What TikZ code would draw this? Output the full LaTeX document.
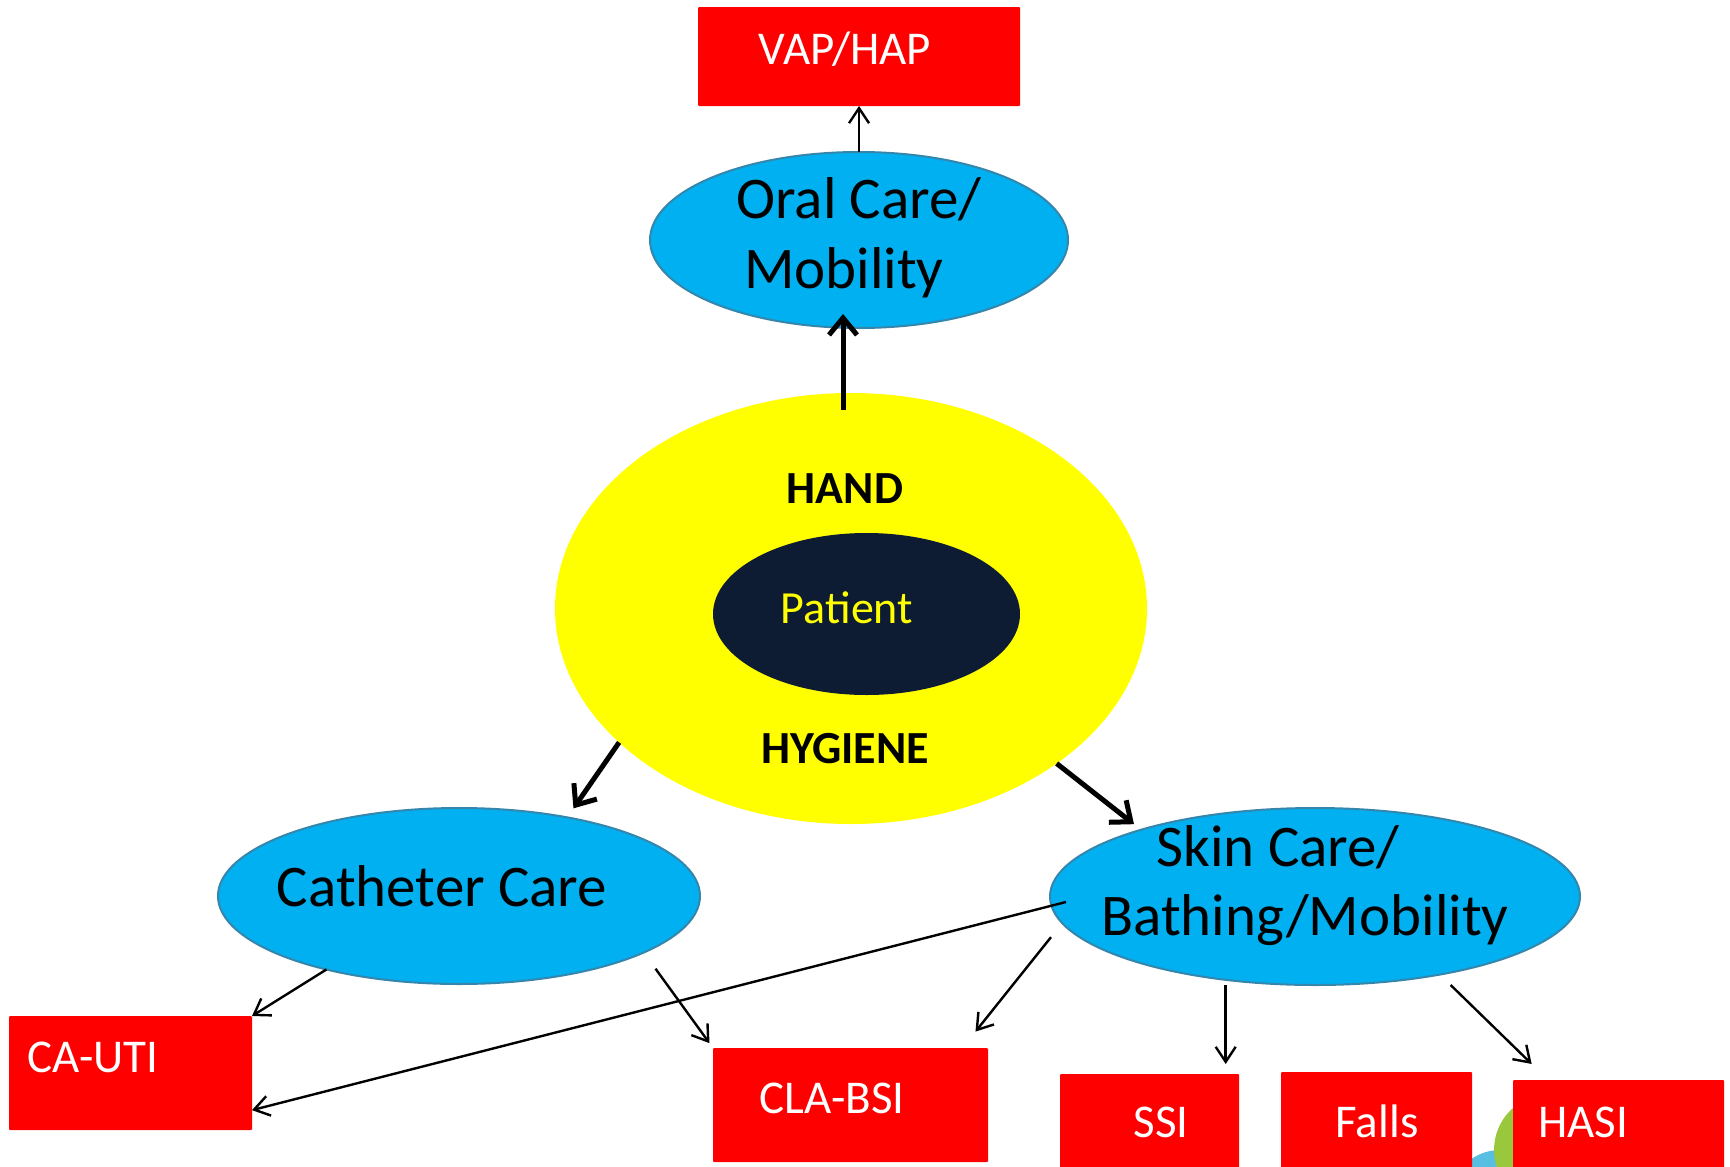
\documentclass[tikz,border=0pt]{standalone}
\usepackage{fontspec}
\setmainfont{Carlito}
\usetikzlibrary{arrows.meta,shapes.geometric}

\definecolor{careblue}{RGB}{0,176,240}
\definecolor{careline}{RGB}{52,134,172}
\definecolor{handyellow}{RGB}{255,255,0}
\definecolor{patientnavy}{RGB}{13,27,51}
\definecolor{riskred}{RGB}{255,0,0}
\definecolor{logoblue}{RGB}{88,190,226}
\definecolor{logogreen}{RGB}{154,200,60}

\tikzset{every picture/.style={line width=0.75pt}}
\tikzset{
  careoval/.style={ellipse, fill=careblue, draw=careline, line width=2pt, inner sep=0pt, outer sep=0pt},
  riskbox/.style={rectangle, fill=riskred, rounded corners=1pt, inner sep=0pt, outer sep=0pt, minimum height=114pt},
  boxlabel/.style={text=white, inner sep=0pt, font=\fontsize{47}{56}\selectfont},
  carelabel/.style={inner sep=0pt, font=\fontsize{59}{70}\selectfont},
  hygienelabel/.style={inner sep=0pt, font=\fontsize{46}{55}\selectfont\bfseries},
  thinarrow/.style={-{Straight Barb[length=15pt,width=20pt]}, line width=2.4pt},
  thickarrow/.style={-{Straight Barb[length=17pt,width=28pt]}, line width=5pt},
}

\begin{document}
\begin{tikzpicture}[x=1pt,y=-1pt]
\useasboundingbox (0,0) rectangle (1730,1167);
\clip (0,0) rectangle (1730,1167);

% logo pieces peeking out behind HASI
\fill[logoblue] (1500,1200) circle [radius=50];
\fill[logogreen] (1550,1150) circle [radius=56];

% top
\node[riskbox, minimum width=322pt, minimum height=99pt] (vap) at (859,56.5) {};
\node[boxlabel, anchor=base] (vaptxt) at (845,64) {VAP/HAP};
\node[careoval, minimum width=418pt, minimum height=176pt] (oral) at (859,240) {};
\node[carelabel, anchor=base] (oral1) at (859,218) {Oral Care/};
\node[carelabel, anchor=base] (oral2) at (844,288) {Mobility};

% centre
\node[ellipse, fill=handyellow, minimum width=592pt, minimum height=431pt, inner sep=0pt, outer sep=0pt] (hand) at (851,608.5) {};
\node[ellipse, fill=patientnavy, minimum width=307pt, minimum height=162pt, inner sep=0pt, outer sep=0pt] (patient) at (866.5,614) {};
\node[hygienelabel, anchor=base] (handtxt) at (845,503) {HAND};
\node[hygienelabel, anchor=base] (hygtxt) at (845,763) {HYGIENE};
\node[anchor=base, inner sep=0pt, text=handyellow, font=\fontsize{46}{55}\selectfont] (pattxt) at (847,623) {Patient};

% care ovals
\node[careoval, minimum width=482pt, minimum height=176pt] (cath) at (459,896) {};
\node[carelabel, anchor=base] (cathtxt) at (442,906) {Catheter Care};
\node[careoval, minimum width=530pt, minimum height=177pt] (skin) at (1315,896.5) {};
\node[carelabel, anchor=base] (skin1) at (1278,866) {Skin Care/};
\node[carelabel, anchor=base] (skin2) at (1305,935) {Bathing/Mobility};

% infections
\node[riskbox, minimum width=243pt] (cauti) at (130.5,1073) {};
\node[boxlabel, anchor=base west] (cautitxt) at (27,1072) {CA-UTI};
\node[riskbox, minimum width=275pt] (clab) at (850.5,1105) {};
\node[boxlabel, anchor=base west] (clabtxt) at (759,1113) {CLA-BSI};
\node[riskbox, minimum width=179pt] (ssi) at (1149.5,1131) {};
\node[boxlabel, anchor=base] (ssitxt) at (1161,1137) {SSI};
\node[riskbox, minimum width=191pt] (falls) at (1376.5,1129) {};
\node[boxlabel, anchor=base] (fallstxt) at (1377,1137) {Falls};
\node[riskbox, minimum width=211pt] (hasi) at (1618.5,1137) {};
\node[boxlabel, anchor=base west] (hasitxt) at (1538,1137) {HASI};

% arrows
\draw[thinarrow] (oral) -- (vap);
\draw[thickarrow, shorten <=-17pt, shorten >=-14pt] ([xshift=-8pt]hand.north) -- ([xshift=-16pt]oral.south);
\draw[thickarrow, shorten >=11pt] (hand.210.5) -- (cath.36.7);
\draw[thickarrow, shorten >=9pt] (hand.323.7) -- (skin.159.5);
\draw[thinarrow] (cath.209.5) -- (cauti.north east);
\draw[thinarrow, shorten <=20pt, shorten >=6pt] (cath.343.7) -- (clab.north west);
\draw[thinarrow, shorten <=-15pt] (skin.182.6) -- (cauti.343.9);
\draw[thinarrow, shorten <=18pt, shorten >=21pt] (skin.186) -- (clab.27.8);
\draw[thinarrow, shorten <=5pt, shorten >=10pt] (skin.223.5) -- (skin.223.5 |- ssi.north);
\draw[thinarrow, shorten <=15pt, shorten >=23pt] (skin.328.1) -- (hasi.141.4);
\end{tikzpicture}
\end{document}
